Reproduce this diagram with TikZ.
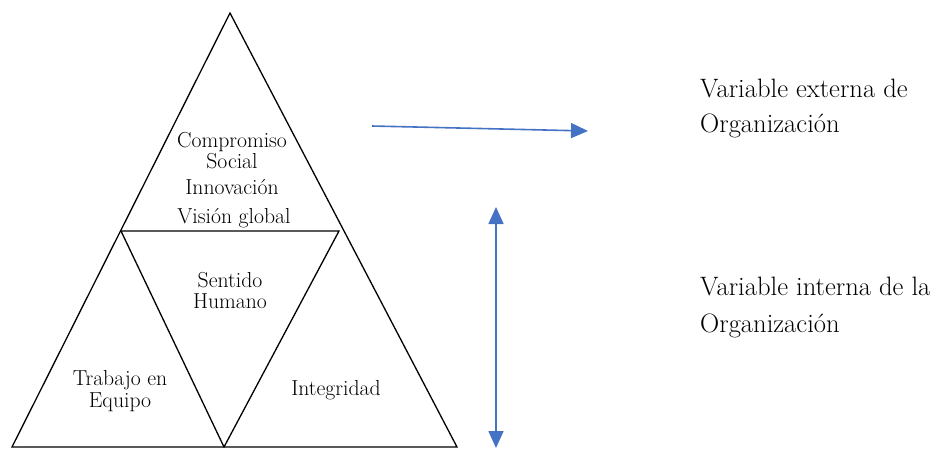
\documentclass[tikz,border=0pt]{standalone}
\usepackage{fontspec}
\usepackage{tikz}
\usetikzlibrary{arrows.meta,positioning}
\definecolor{azul}{HTML}{4472C4}

\begin{document}
\begin{tikzpicture}[x=1pt,y=-1pt,
                lado/.style={draw=black,line width=1.3pt,line join=miter},
                valor/.style={font=\fontsize{21.7}{22}\selectfont,inner sep=0pt,anchor=base},
                nota/.style={font=\fontsize{26.6}{33}\selectfont,inner sep=0pt,anchor=base west},
                flecha/.style={draw=azul,line width=1.6pt,-{Triangle[length=17pt,width=15pt]}}]
            \useasboundingbox (0,0) rectangle (933,448);
            % vertices de la piramide
            \coordinate (cima) at (230,13);
            \coordinate (izq)  at (12,447);
            \coordinate (der)  at (457,447);
            \coordinate (mizq) at (121,231);
            \coordinate (mder) at (339,231);
            \coordinate (mbaj) at (224,447);
            \draw [lado] (cima) -- (der) -- (izq) -- cycle;
            \draw [lado] (mizq) -- (mder) -- (mbaj) -- cycle;
            % valores
            \node [valor] (comp) at (232,147) {Compromiso};
            \node [valor] (soc)  at (232,168) {Social};
            \node [valor] (inno) at (232,194) {Innovación};
            \node [valor] (vis)  at (234,223) {Visión global};
            \node [valor] (sent) at (230,287) {Sentido};
            \node [valor] (hum)  at (230,308) {Humano};
            \node [valor] (trab) at (120,385) {Trabajo en};
            \node [valor] (equi) at (120,407) {Equipo};
            \node [valor] (inte) at (336,395) {Integridad};
            % variables
            \node [nota] (ext1) at (700,97)  {Variable externa de};
            \node [nota] (ext2) at (700,132) {Organización};
            \node [nota] (int1) at (700,295) {Variable interna de la};
            \node [nota] (int2) at (700,332) {Organización};
            % flechas
            \coordinate (hini) at (372,126);
            \coordinate (hfin) at (588,131);
            \coordinate (varr) at (496,207);
            \coordinate (vabj) at (496,448);
            \draw [flecha] (hini) -- (hfin);
            \draw [flecha,{Triangle[length=17pt,width=15pt]}-{Triangle[length=17pt,width=15pt]}] (vabj) -- (varr);
\end{tikzpicture}
\end{document}
